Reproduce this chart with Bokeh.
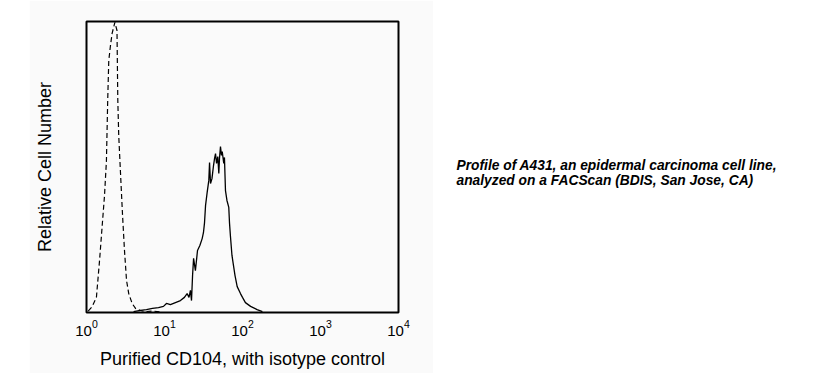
from bokeh.plotting import figure
from bokeh.models import FixedTicker, LogTickFormatter, Range1d, Spacer
from bokeh.layouts import row
from bokeh.core.properties import value
from bokeh.embed import file_html
from bokeh.resources import INLINE

# ---- data ----
tick_values = [1, 10, 100, 1000, 10000]

isotype_x = [1.05, 1.18, 1.34, 1.47, 1.59, 1.70, 1.80, 1.87, 1.93, 2.03, 2.13, 2.31,
             2.46, 2.52, 2.59, 2.73, 2.90, 3.07, 3.26, 3.48, 3.85, 4.25, 4.92, 5.62,
             7.08, 8.91]
isotype_y = [0.5, 2.0, 5.2, 17.9, 29.9, 40.0, 52.0, 72.9, 86.6, 91.8, 95.9, 99.7,
             96.9, 72.9, 60.8, 47.8, 33.3, 21.3, 11.0, 6.5, 3.1, 1.4, 0.7, 0.3,
             0.5, 0.2]

cd104_x = [4.01, 4.92, 5.87, 7.01, 8.37, 9.70, 10.6, 11.9, 13.8, 16.0, 18.0, 19.5,
           20.6, 21.5, 22.2, 22.9, 23.6, 24.9, 26.5, 28.4, 30.4, 31.6, 32.6, 33.6,
           35.2, 37.0, 37.8, 38.9, 40.6, 42.5, 43.8, 45.1, 46.5, 48.2, 49.7, 50.7,
           52.2, 53.8, 55.0, 57.5, 58.7, 60.5, 63.2, 66.7, 68.1, 70.1, 73.3, 76.0,
           80.2, 85.5, 94.2, 100, 109, 127, 154, 180]
cd104_y = [0.3, 0.7, 1.0, 1.4, 1.7, 2.1, 3.1, 2.7, 3.4, 4.1, 5.2, 6.5,
           5.2, 7.6, 4.1, 12.7, 18.6, 14.4, 21.3, 23.0, 25.4, 27.5, 30.9, 36.8,
           41.2, 45.4, 51.5, 44.3, 46.0, 50.5, 52.9, 54.6, 51.2, 53.6, 47.8, 52.9,
           57.0, 54.0, 55.3, 51.2, 53.3, 41.9, 38.5, 36.1, 30.9, 26.1, 19.6, 16.8,
           12.7, 8.9, 6.5, 5.2, 3.4, 2.1, 1.0, 0.3]

x_title = "Purified CD104, with isotype control"
y_title = "Relative Cell Number"
note_lines = ["Profile of A431, an epidermal carcinoma cell line,",
              "analyzed on a FACScan (BDIS, San Jose, CA)"]

FONT = "Liberation Sans"
BG = "#fafafa"
H = 373

p = figure(width=404, height=H, x_axis_type="log",
           x_range=Range1d(1, 10000), y_range=Range1d(0, 100),
           output_backend="svg", toolbar_location=None,
           min_border_left=57, min_border_right=35, min_border_top=21,
           min_border_bottom=61)
p.background_fill_color = BG
p.border_fill_color = BG
p.outline_line_color = "black"
p.outline_line_width = 2
p.xgrid.visible = False
p.ygrid.visible = False

p.line(isotype_x, isotype_y, line_color="black", line_width=1.2, line_dash="5 3")
p.line(cd104_x, cd104_y, line_color="black", line_width=1.3)

xa = p.xaxis[0]
xa.ticker = FixedTicker(ticks=tick_values)
xa.formatter = LogTickFormatter()
xa.major_tick_line_color = None
xa.minor_tick_line_color = None
xa.axis_line_color = None
xa.major_label_text_font = FONT
xa.major_label_text_font_size = "15px"
xa.major_label_text_color = "black"
xa.major_label_standoff = 1
xa.axis_label = x_title
xa.axis_label_text_font = FONT
xa.axis_label_text_font_style = "normal"
xa.axis_label_text_font_size = "18px"
xa.axis_label_text_color = "black"
xa.axis_label_standoff = 10

ya = p.yaxis[0]
ya.ticker = FixedTicker(ticks=[])
ya.major_tick_line_color = None
ya.minor_tick_line_color = None
ya.axis_line_color = None
ya.axis_label = y_title
ya.axis_label_text_font = FONT
ya.axis_label_text_font_style = "normal"
ya.axis_label_text_font_size = "18px"
ya.axis_label_text_color = "black"
ya.axis_label_standoff = 32

TW = 372
t = figure(width=TW, height=H, output_backend="svg", toolbar_location=None,
           min_border=0, x_range=Range1d(0, TW), y_range=Range1d(H, 0),
           title=None)
t.axis.visible = False
t.grid.visible = False
t.outline_line_color = None
t.background_fill_color = "white"
t.border_fill_color = "white"
t.text(x=[23, 23], y=[184, 204], text=note_lines,
       text_font=value(FONT), text_font_size="13.8px",
       text_font_style="bold italic", text_color="black",
       text_baseline="alphabetic", text_align="left")

layout = row(Spacer(width=29, height=H), p, t)

open("out.html", "w").write(file_html(layout, INLINE))
